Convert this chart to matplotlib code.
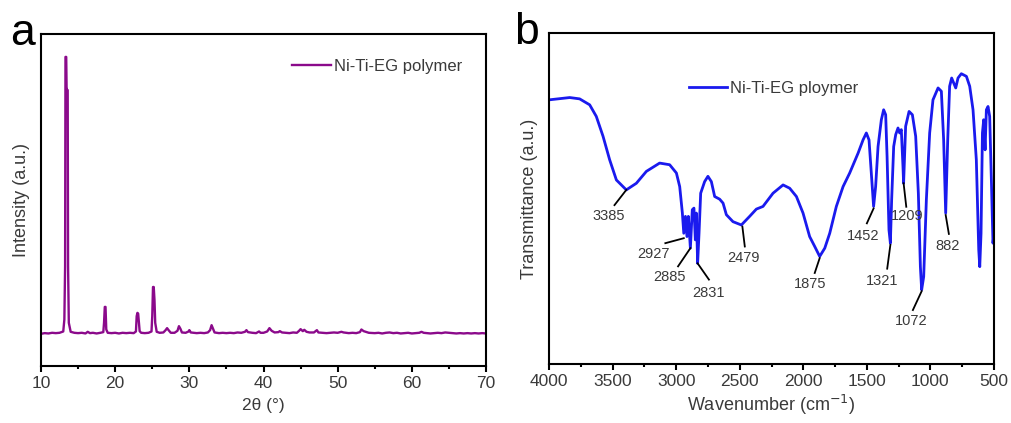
import matplotlib
matplotlib.use('Agg')
import matplotlib.pyplot as plt
from matplotlib.ticker import MultipleLocator

plt.rcParams['font.family'] = ['Liberation Sans', 'DejaVu Sans']

# XRD pattern, panel a (2theta in degrees, intensity a.u.)
xrd_2theta = [
    10.0, 10.5, 11.0, 11.5, 12.0, 12.5, 13.0, 13.15, 13.25, 13.3, 13.4, 13.45,
    13.5, 13.6, 13.65, 13.75, 14.0, 14.5, 15.0, 15.5, 16.0, 16.3, 16.6, 17.0,
    17.5, 18.0, 18.4, 18.5, 18.6, 18.7, 18.8, 19.0, 19.5, 20.0, 20.5, 21.0,
    21.5, 22.0, 22.5, 22.8, 22.9, 23.0, 23.1, 23.2, 23.3, 23.5, 24.0, 24.5,
    24.9, 25.0, 25.1, 25.2, 25.3, 25.4, 25.6, 26.0, 26.5, 26.8, 27.0, 27.2,
    27.5, 28.0, 28.4, 28.6, 28.8, 29.0, 29.5, 29.9, 30.0, 30.2, 30.6, 31.0,
    31.5, 32.0, 32.5, 32.8, 33.0, 33.2, 33.4, 34.0, 34.5, 35.0, 35.5, 36.0,
    36.5, 37.0, 37.5, 37.7, 37.9, 38.5, 39.0, 39.4, 39.6, 40.0, 40.5, 40.8,
    41.1, 41.5, 42.0, 42.2, 42.5, 43.0, 43.5, 44.0, 44.5, 44.8, 45.0, 45.3,
    45.5, 45.8, 46.2, 46.8, 47.2, 47.4, 48.0, 48.5, 49.0, 49.5, 50.0, 50.5,
    50.8, 51.5, 52.0, 52.5, 53.0, 53.2, 53.5, 53.8, 54.2, 55.0, 55.5, 56.0,
    56.5, 57.0, 57.5, 58.0, 58.5, 59.0, 59.5, 60.0, 60.5, 61.0, 61.3, 61.6,
    62.0, 62.5, 63.0, 63.5, 64.0, 64.5, 65.0, 65.5, 66.0, 66.5, 67.0, 67.5,
    68.0, 68.5, 69.0, 69.5, 70.0]
xrd_intensity = [
    97, 99, 98, 100, 99, 100, 104, 140, 300, 931, 931, 840,
    831, 831, 300, 130, 103, 100, 99, 100, 98, 103, 99, 100,
    98, 100, 102, 130, 178, 178, 110, 100, 99, 100, 98, 100,
    99, 100, 99, 104, 150, 160, 158, 130, 105, 100, 99, 100,
    104, 150, 238, 238, 199, 130, 103, 100, 101, 108, 114, 108,
    100, 100, 106, 120, 112, 101, 100, 104, 108, 101, 100, 99,
    100, 99, 101, 108, 123, 112, 101, 99, 100, 99, 100, 99,
    101, 100, 103, 108, 102, 100, 99, 104, 100, 100, 104, 114,
    106, 101, 102, 105, 101, 100, 99, 101, 100, 106, 111, 105,
    109, 103, 101, 101, 108, 101, 100, 99, 100, 101, 100, 103,
    101, 99, 100, 99, 102, 110, 105, 103, 100, 99, 100, 98,
    100, 101, 99, 100, 98, 99, 100, 98, 99, 100, 103, 100,
    99, 98, 99, 100, 99, 101, 100, 99, 98, 99, 98, 99,
    98, 99, 98, 99, 98]

# FTIR spectrum, panel b (wavenumber cm-1, transmittance a.u.)
ftir_wn = [
    4000, 3837, 3759, 3680, 3628, 3575, 3523, 3470, 3392, 3313, 3234, 3130,
    3051, 2998, 2972, 2951, 2940, 2927, 2915, 2904, 2888, 2873, 2860, 2849,
    2841, 2831, 2820, 2807, 2776, 2750, 2723, 2697, 2658, 2631, 2605, 2553,
    2487, 2422, 2369, 2317, 2238, 2159, 2107, 2054, 2002, 1950, 1910, 1871,
    1831, 1792, 1740, 1687, 1635, 1569, 1530, 1504, 1483, 1465, 1447, 1431,
    1412, 1386, 1368, 1352, 1341, 1326, 1315, 1305, 1289, 1273, 1255, 1242,
    1229, 1216, 1211, 1195, 1168, 1142, 1116, 1095, 1079, 1069, 1053, 1032,
    1006, 980, 940, 914, 896, 880, 864, 849, 833, 817, 801, 783,
    757, 717, 691, 665, 639, 620, 612, 602, 591, 581, 570, 560,
    547, 534, 520, 508, 500]
ftir_trans = [
    79.8, 80.5, 80.1, 78.3, 74.8, 68.8, 61.7, 55.6, 52.6, 54.6, 58.2, 60.7,
    60.2, 57.7, 53.6, 45.6, 39.5, 44.6, 38.5, 44.6, 35.0, 46.6, 47.1, 37.5,
    45.6, 30.4, 39.5, 51.6, 55.1, 56.7, 55.1, 50.6, 49.8, 48.6, 45.1, 43.0,
    42.0, 44.6, 46.8, 47.6, 51.6, 54.1, 53.1, 50.6, 45.6, 38.5, 35.5, 32.5,
    35.0, 39.5, 47.6, 53.6, 57.7, 63.7, 67.7, 69.8, 67.7, 57.7, 47.6, 53.6,
    65.7, 73.8, 76.8, 75.3, 62.7, 40.5, 36.5, 49.6, 65.7, 69.3, 71.3, 69.8,
    70.8, 59.7, 54.6, 71.8, 76.3, 75.3, 68.8, 51.6, 29.4, 22.4, 26.4, 49.6,
    69.8, 79.8, 83.4, 82.4, 67.7, 45.6, 67.7, 83.9, 86.4, 84.9, 83.4, 86.4,
    87.7, 86.9, 83.9, 76.8, 61.7, 34.5, 29.4, 39.5, 69.8, 73.8, 64.7, 76.8,
    77.8, 74.8, 54.6, 36.5, 39.5]

# peak labels: text, point on curve, label position
peak_labels = ['3385', '2927', '2885', '2831', '2479', '1875',
               '1452', '1209', '1321', '1072', '882']
peak_xy = [(3392, 52.6), (2940, 38.0), (2888, 35.0), (2831, 30.4),
           (2479, 41.5), (1871, 32.0), (1447, 47.0), (1211, 54.6),
           (1315, 36.0), (1069, 22.0), (880, 45.0)]
label_xy = [(3531, 44.8), (3182, 33.3), (3051, 26.4), (2744, 21.6),
            (2469, 32.0), (1944, 24.2), (1530, 38.7), (1184, 44.8),
            (1378, 25.1), (1150, 13.1), (869, 35.7)]
line_end_xy = [(3485, 48.0), (3085, 36.5), (2985, 29.5), (2742, 25.5),
               (2460, 35.5), (1910, 27.5), (1500, 42.5), (1190, 47.5),
               (1340, 28.8), (1138, 16.3), (855, 39.3)]

text_color = '#3a3a3a'

fig = plt.figure(figsize=(10.11, 4.23), dpi=100)
ax1 = fig.add_axes([41 / 1011, 1 - 366 / 423, 445 / 1011, 332 / 423])
ax2 = fig.add_axes([549 / 1011, 1 - 364 / 423, 445 / 1011, 331 / 423])

for ax in (ax1, ax2):
    for sp in ax.spines.values():
        sp.set_linewidth(1.5)
        sp.set_color('black')
    ax.set_yticks([])
    ax.tick_params(axis='x', which='major', direction='out', length=4,
                   width=1.5, labelsize=12.5, labelcolor=text_color, pad=3)
    ax.tick_params(axis='x', which='minor', direction='out', length=2.5,
                   width=1.5)

# panel a
ax1.plot(xrd_2theta, xrd_intensity, color='#8b0a8b', lw=1.7,
         label='Ni-Ti-EG polymer')
ax1.set_xlim(10, 70)
ax1.set_ylim(0, 1000)
ax1.xaxis.set_major_locator(MultipleLocator(10))
ax1.xaxis.set_minor_locator(MultipleLocator(5))
ax1.set_xlabel('2θ (°)', fontsize=12.5, color=text_color, labelpad=5)
ax1.set_ylabel('Intensity (a.u.)', fontsize=13, color=text_color, labelpad=8)
leg1 = ax1.legend(loc='upper right', frameon=False, fontsize=12,
                  handlelength=2.3, handletextpad=0.2,
                  bbox_to_anchor=(0.98, 0.97))
for t in leg1.get_texts():
    t.set_color(text_color)
fig.text(10 / 1011, 1 - 45 / 423, 'a', fontsize=32, color='black',
         va='baseline', ha='left')

# panel b
ax2.plot(ftir_wn, ftir_trans, color='#1a1aee', lw=2,
         label='Ni-Ti-EG ploymer')
ax2.set_xlim(4000, 500)
ax2.set_ylim(0, 100)
ax2.xaxis.set_major_locator(MultipleLocator(500))
ax2.xaxis.set_minor_locator(MultipleLocator(250))
ax2.set_xlabel('Wavenumber (cm$^{-1}$)', fontsize=13, color=text_color,
               labelpad=3)
ax2.set_ylabel('Transmittance (a.u.)', fontsize=13, color=text_color,
               labelpad=8)
leg2 = ax2.legend(loc='upper left', frameon=False, fontsize=12,
                  handlelength=2.3, handletextpad=0.2,
                  bbox_to_anchor=(0.28, 0.9))
for t in leg2.get_texts():
    t.set_color(text_color)
fig.text(514 / 1011, 1 - 44 / 423, 'b', fontsize=32, color='black',
         va='baseline', ha='left')

for lab, (px, py), (lx, ly), (ex, ey) in zip(peak_labels, peak_xy, label_xy,
                                             line_end_xy):
    ax2.plot([px, ex], [py, ey], color='black', lw=1.3)
    ax2.text(lx, ly, lab, fontsize=10.5, color=text_color, ha='center',
             va='center')

fig.savefig('out.png', dpi=100)
